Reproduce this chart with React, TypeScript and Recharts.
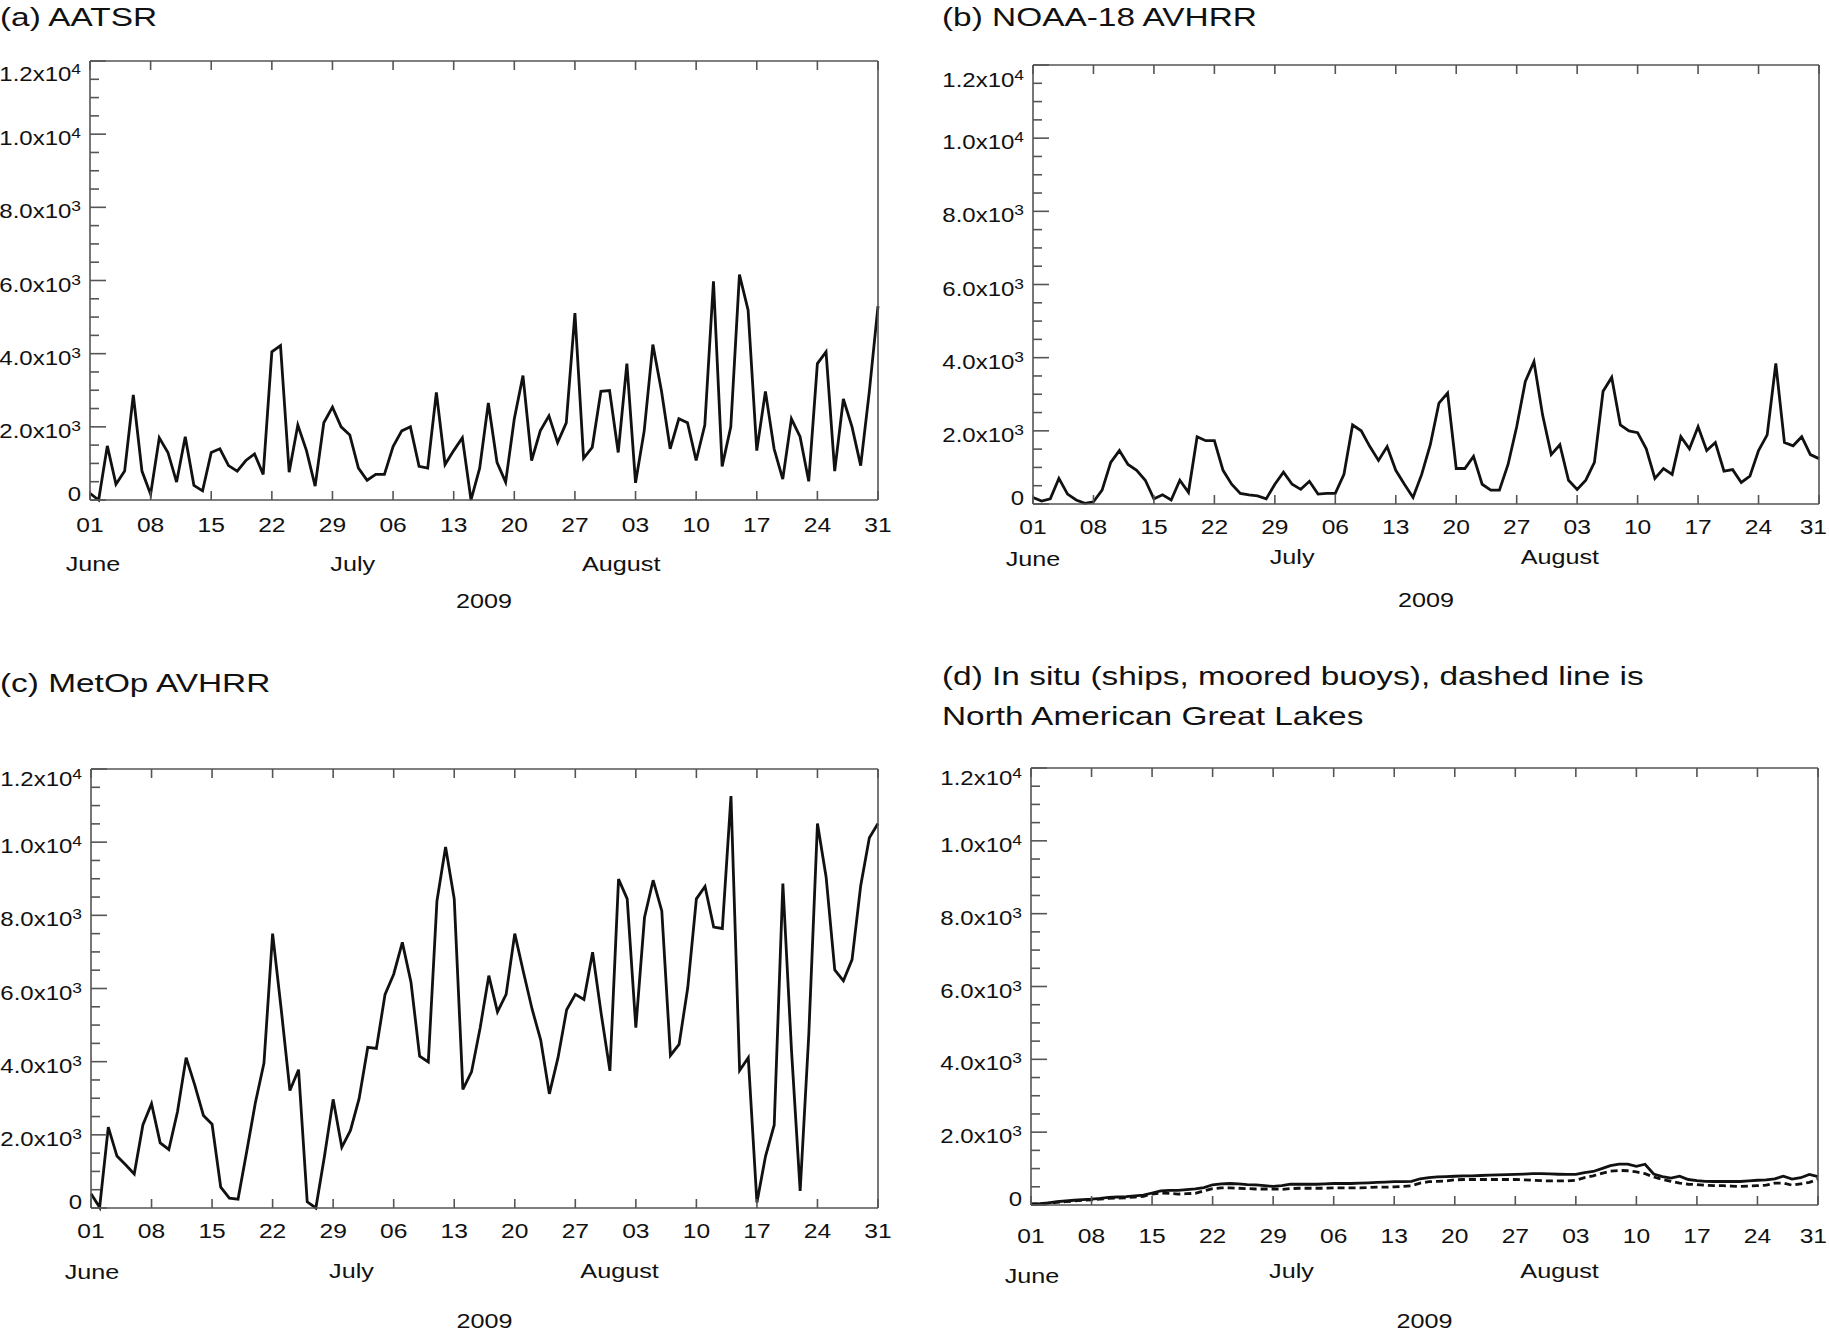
import { Line, LineChart, XAxis, YAxis } from "recharts";

// day index 0 = 1 June 2009, 91 = 31 August 2009
const DAY_TICKS = [0, 7, 14, 21, 28, 35, 42, 49, 56, 63, 70, 77, 84, 91];
const DAY_LABELS = ["01", "08", "15", "22", "29", "06", "13", "20", "27", "03", "10", "17", "24", "31"];
const MONTH_TICKS = [0, 30, 61];
const MONTH_LABELS = ["June", "July", "August"];
const YEAR_LABEL = "2009";

const Y_TICKS = [
  0, 500, 1000, 1500, 2000, 2500, 3000, 3500, 4000, 4500, 5000, 5500, 6000,
  6500, 7000, 7500, 8000, 8500, 9000, 9500, 10000, 10500, 11000, 11500, 12000,
];
const Y_LABELS: Record<number, [string, string]> = {
  0: ["0", ""],
  2000: ["2.0x10", "3"],
  4000: ["4.0x10", "3"],
  6000: ["6.0x10", "3"],
  8000: ["8.0x10", "3"],
  10000: ["1.0x10", "4"],
  12000: ["1.2x10", "4"],
};

const aatsr = [
  180, 0, 1480, 430, 790, 2870, 790, 160, 1700, 1300,
  490, 1730, 400, 250, 1300, 1400, 940, 790, 1080, 1260,
  700, 4050, 4220, 760, 2050, 1350, 380, 2110, 2540, 2000,
  1780, 870, 540, 700, 700, 1460, 1890, 2000, 920, 870,
  2940, 970, 1350, 1700, 0, 870, 2650, 1030, 490, 2220,
  3400, 1080, 1890, 2300, 1570, 2110, 5110, 1140, 1440, 2970,
  2990, 1300, 3730, 470, 1890, 4250, 2970, 1400, 2220, 2110,
  1080, 2050, 5980, 920, 2000, 6160, 5190, 1350, 2970, 1400,
  570, 2220, 1730, 510, 3730, 4050, 790, 2760, 2000, 940,
  2970, 5300,
];

const noaa18 = [
  180, 80, 140, 700, 270, 110, 20, 60, 380, 1140,
  1460, 1080, 920, 650, 140, 250, 110, 650, 320, 1840,
  1730, 1730, 920, 540, 290, 250, 220, 140, 540, 870,
  540, 400, 620, 270, 290, 290, 810, 2160, 2000, 1570,
  1190, 1570, 920, 540, 180, 810, 1620, 2760, 3030, 970,
  970, 1300, 540, 380, 380, 1080, 2110, 3350, 3890, 2430,
  1350, 1620, 650, 400, 650, 1140, 3080, 3460, 2160, 2000,
  1950, 1510, 700, 970, 810, 1840, 1510, 2110, 1460, 1680,
  900, 940, 590, 760, 1460, 1890, 3840, 1680, 1590, 1840,
  1350, 1240,
];

const metop = [
  390, 20, 2210, 1420, 1180, 930, 2270, 2850, 1780, 1600,
  2630, 4110, 3360, 2530, 2290, 570, 270, 240, 1540, 2870,
  3960, 7500, 5420, 3210, 3780, 170, 0, 1420, 2970, 1660,
  2120, 2990, 4390, 4360, 5840, 6390, 7260, 6170, 4150, 3990,
  8390, 9870, 8450, 3240, 3720, 4930, 6350, 5360, 5840, 7500,
  6450, 5440, 4590, 3120, 4110, 5420, 5840, 5700, 6990, 5300,
  3750, 8990, 8450, 4930, 7940, 8960, 8120, 4170, 4470, 6020,
  8450, 8790, 7680, 7640, 11260, 3760, 4110, 150, 1420, 2270,
  8870, 4300, 470, 4750, 10510, 9050, 6510, 6210, 6790, 8810,
  10120, 10510,
];

const inSitu = [
  30, 40, 60, 90, 110, 130, 150, 160, 180, 210,
  220, 230, 250, 270, 330, 390, 400, 400, 420, 440,
  480, 555, 580, 590, 580, 560, 550, 530, 510, 530,
  570, 570, 570, 570, 580, 590, 590, 590, 600, 610,
  620, 630, 640, 640, 650, 720, 750, 770, 780, 790,
  800, 800, 810, 820, 830, 835, 840, 850, 860, 860,
  855, 845, 840, 840, 890, 920, 1000, 1080, 1120, 1120,
  1060, 1120, 850, 780, 740, 790, 700, 670, 650, 645,
  650, 645, 645, 660, 680, 690, 720, 790, 710, 750,
  840, 780,
];

const greatLakes = [
  20, 30, 50, 70, 90, 110, 130, 140, 160, 180,
  190, 200, 220, 240, 300, 330, 320, 300, 310, 320,
  390, 450, 470, 470, 460, 450, 440, 440, 440, 430,
  450, 460, 460, 460, 460, 470, 470, 470, 470, 480,
  490, 490, 500, 510, 530, 600, 640, 650, 660, 690,
  700, 700, 700, 700, 700, 700, 700, 690, 680, 670,
  660, 660, 660, 680, 750, 800, 870, 930, 950, 940,
  910, 860, 770, 700, 650, 600, 570, 560, 540, 530,
  530, 520, 510, 520, 530, 545, 600, 600, 545, 580,
  620, 710,
];

const FONT = "'Liberation Sans', Arial, Helvetica, sans-serif";
const INK = "#111";
const FRAME = "#555";
const SX = 1.2; // the original lettering is stretched sideways
const PAGE_W = 1829;

function AxisText({ x, y, anchor, size, children }: any) {
  return (
    <text
      transform={`translate(${x},${y}) scale(${SX},1)`}
      textAnchor={anchor}
      fontFamily={FONT}
      fontSize={size}
      fill={INK}
    >
      {children}
    </text>
  );
}

function RightTick({ x, y, payload }: any) {
  const len = Y_LABELS[payload.value] ? 16 : 9;
  return <line x1={x} x2={x - len} y1={y} y2={y} stroke={FRAME} strokeWidth={1.6} />;
}

function TopTick({ x, y }: any) {
  return <line x1={x} x2={x} y1={y} y2={y + 9} stroke={FRAME} strokeWidth={1.6} />;
}

interface Offsets {
  tick: number;
  june: number;
  month: number;
  year: number;
  topDy: number;
  monthDx: number;
}

function Panel({ frame, off, series }: any) {
  const o: Offsets = off;
  const ML = Math.min(frame.l, 92);
  const MR = 30;
  const MT = 20;
  const MB = o.year + 12;
  const width = frame.r - frame.l + ML + MR;
  const height = frame.b - frame.t + MT + MB;
  const chartLeft = frame.l - ML;
  const rows = series[0].values.map((_: number, i: number) => {
    const row: Record<string, number> = { d: i };
    series.forEach((s: any) => (row[s.key] = s.values[i]));
    return row;
  });

  const LeftTick = ({ x, y, payload }: any) => {
    const v = payload.value;
    const label = Y_LABELS[v];
    const len = label ? 16 : 9;
    const dy = v === 0 ? 1 : v === 12000 ? o.topDy : 11;
    return (
      <g>
        <line x1={x} x2={x + len} y1={y} y2={y} stroke={FRAME} strokeWidth={1.6} />
        {label && (
          <AxisText x={x - 9} y={y + dy} anchor="end" size={20}>
            {label[0]}
            {label[1] && (
              <tspan dy={-7} fontSize={14.5}>
                {label[1]}
              </tspan>
            )}
          </AxisText>
        )}
      </g>
    );
  };
  const BottomTick = ({ x, y, payload }: any) => {
    // a label that would run past the page edge is pulled back inside it
    const tooFar = chartLeft + x + 15 > PAGE_W;
    return (
      <g>
        <line x1={x} x2={x} y1={y} y2={y - 9} stroke={FRAME} strokeWidth={1.6} />
        <AxisText
          x={tooFar ? PAGE_W - chartLeft - 2 : x}
          y={y + o.tick}
          anchor={tooFar ? "end" : "middle"}
          size={20.5}
        >
          {DAY_LABELS[DAY_TICKS.indexOf(payload.value)]}
        </AxisText>
      </g>
    );
  };
  const MonthTick = ({ x, y, payload }: any) => {
    const i = MONTH_TICKS.indexOf(payload.value);
    return (
      <AxisText x={x + o.monthDx} y={y - 1 + (i === 0 ? o.june : o.month)} anchor="middle" size={21}>
        {MONTH_LABELS[i]}
      </AxisText>
    );
  };
  const YearLabel = (props: any) => {
    const vb = props.viewBox || {};
    return (
      <AxisText x={vb.x + vb.width / 2} y={vb.y - 1 + o.year} anchor="middle" size={21}>
        {YEAR_LABEL}
      </AxisText>
    );
  };

  const axisLine = { stroke: FRAME, strokeWidth: 1.6 };

  // every axis is 1px thick (an axis of size 0 is not drawn), so the margins give up that pixel
  return (
    <div style={{ position: "absolute", left: chartLeft, top: frame.t - MT }}>
      <LineChart
        width={width}
        height={height}
        data={rows}
        margin={{ top: MT - 1, right: MR - 1, bottom: MB - 2, left: ML - 1 }}
      >
        <XAxis
          dataKey="d"
          type="number"
          domain={[0, 91]}
          ticks={DAY_TICKS}
          interval={0}
          height={1}
          tickSize={0}
          tickMargin={0}
          tickLine={false}
          axisLine={axisLine}
          tick={(p: any) => <BottomTick {...p} />}
        />
        <XAxis
          xAxisId="month"
          dataKey="d"
          type="number"
          domain={[0, 91]}
          ticks={MONTH_TICKS}
          interval={0}
          height={1}
          tickSize={0}
          tickMargin={0}
          tickLine={false}
          axisLine={false}
          tick={(p: any) => <MonthTick {...p} />}
          label={(p: any) => <YearLabel {...p} />}
        />
        <XAxis
          xAxisId="top"
          orientation="top"
          dataKey="d"
          type="number"
          domain={[0, 91]}
          ticks={DAY_TICKS}
          interval={0}
          height={1}
          tickSize={0}
          tickMargin={0}
          tickLine={false}
          axisLine={axisLine}
          tick={(p: any) => <TopTick {...p} />}
        />
        <YAxis
          type="number"
          domain={[0, 12000]}
          ticks={Y_TICKS}
          interval={0}
          width={1}
          tickSize={0}
          tickMargin={0}
          tickLine={false}
          axisLine={axisLine}
          tick={(p: any) => <LeftTick {...p} />}
        />
        <YAxis
          yAxisId="right"
          orientation="right"
          type="number"
          domain={[0, 12000]}
          ticks={Y_TICKS}
          interval={0}
          width={1}
          tickSize={0}
          tickMargin={0}
          tickLine={false}
          axisLine={axisLine}
          tick={(p: any) => <RightTick {...p} />}
        />
        {series.map((s: any) => (
          <Line
            key={s.key}
            type="linear"
            dataKey={s.key}
            stroke={INK}
            strokeWidth={2.8}
            strokeDasharray={s.dash}
            dot={false}
            activeDot={false}
            isAnimationActive={false}
          />
        ))}
      </LineChart>
    </div>
  );
}

function Title({ lines, left, top, lineHeight }: { lines: string[]; left: number; top: number; lineHeight: number }) {
  return (
    <div
      style={{
        position: "absolute",
        left,
        top,
        fontFamily: FONT,
        fontSize: 26.3,
        lineHeight: `${lineHeight}px`,
        color: INK,
        whiteSpace: "nowrap",
        transform: "scaleX(1.27)",
        transformOrigin: "0 0",
      }}
    >
      {lines.map((l) => (
        <div key={l}>{l}</div>
      ))}
    </div>
  );
}

export default function App() {
  return (
    <div style={{ position: "absolute", left: 0, top: 0, width: PAGE_W, height: 1332, background: "#fff", overflow: "hidden" }}>
      <style>{"html, body { overflow: hidden; }"}</style>
      <Title lines={["(a) AATSR"]} left={0} top={4} lineHeight={26} />
      <Title lines={["(b) NOAA-18 AVHRR"]} left={942} top={4} lineHeight={26} />
      <Title lines={["(c) MetOp AVHRR"]} left={0} top={670} lineHeight={26} />
      <Title
        lines={["(d) In situ (ships, moored buoys), dashed line is", "North American Great Lakes"]}
        left={942}
        top={656}
        lineHeight={40}
      />

      <Panel
        frame={{ l: 90, r: 878, t: 61, b: 500 }}
        off={{ tick: 32, june: 71, month: 71, year: 108, topDy: 19.5, monthDx: 3 }}
        series={[{ key: "aatsr", values: aatsr }]}
      />
      <Panel
        frame={{ l: 1033, r: 1819, t: 65, b: 504 }}
        off={{ tick: 30, june: 62, month: 60, year: 103, topDy: 22, monthDx: 0 }}
        series={[{ key: "noaa18", values: noaa18 }]}
      />
      <Panel
        frame={{ l: 91, r: 878, t: 769, b: 1208 }}
        off={{ tick: 30, june: 71, month: 70, year: 120, topDy: 17, monthDx: 1 }}
        series={[{ key: "metop", values: metop }]}
      />
      <Panel
        frame={{ l: 1031, r: 1818, t: 768, b: 1205 }}
        off={{ tick: 38, june: 78, month: 73, year: 123, topDy: 17, monthDx: 1 }}
        series={[
          { key: "inSitu", values: inSitu },
          { key: "greatLakes", values: greatLakes, dash: "7 4" },
        ]}
      />
    </div>
  );
}
